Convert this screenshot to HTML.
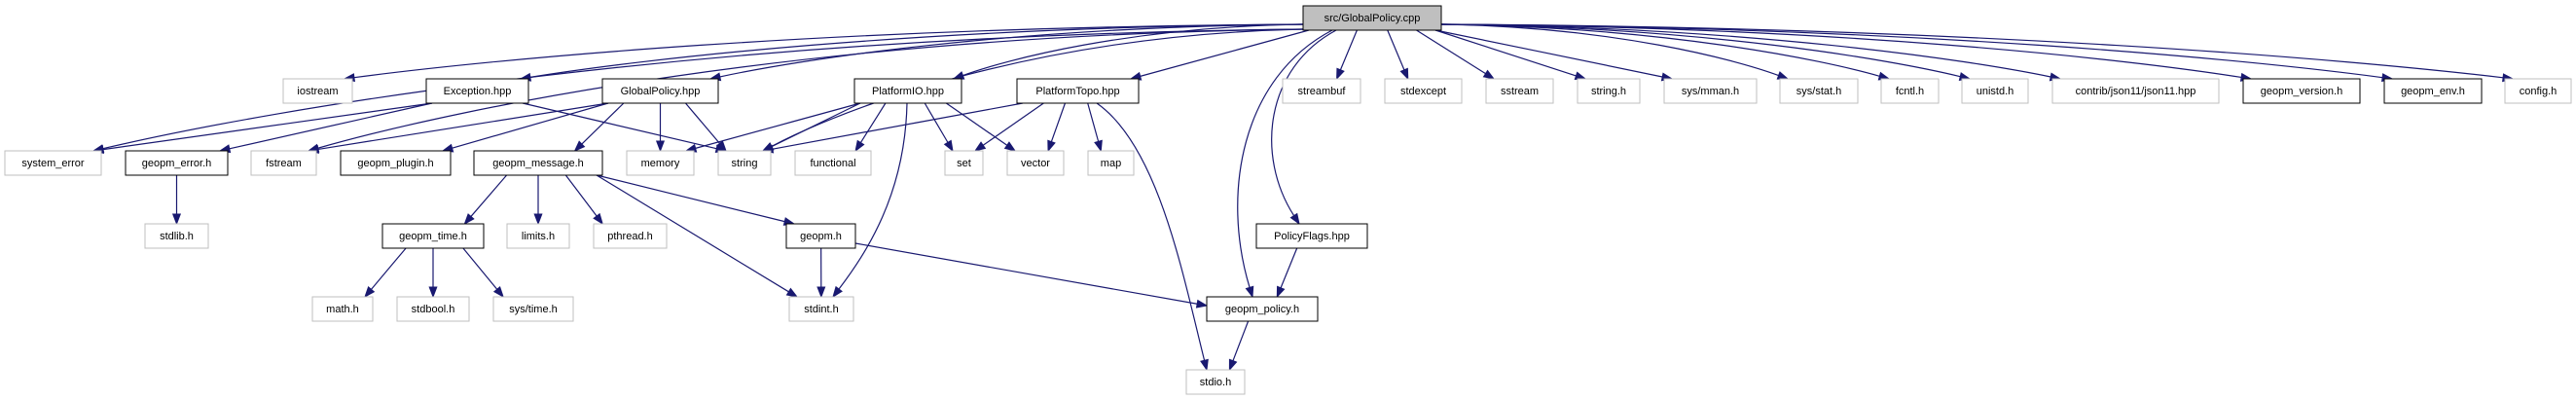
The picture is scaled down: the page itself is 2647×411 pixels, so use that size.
<!DOCTYPE html>
<html><head><meta charset="utf-8"><style>
html,body{margin:0;padding:0;background:#fff;width:2647px;height:411px;overflow:hidden}
svg{display:block}
text{font-family:"Liberation Sans",sans-serif;font-size:11px;fill:#000;text-anchor:middle}
</style></head><body>
<svg id="g" width="2647" height="411" xmlns="http://www.w3.org/2000/svg">
<g id="edges"></g>
<g id="nodes" stroke-width="1">
<rect x="1339" y="6" width="142" height="25" fill="#bfbfbf" stroke="#000"/><text x="1410" y="22">src/GlobalPolicy.cpp</text>
<rect x="291" y="81" width="71" height="25" fill="#fff" stroke="#bfbfbf"/><text x="326.5" y="97">iostream</text>
<rect x="438" y="81" width="105" height="25" fill="#fff" stroke="#000"/><text x="490.5" y="97">Exception.hpp</text>
<rect x="619" y="81" width="119" height="25" fill="#fff" stroke="#000"/><text x="678.5" y="97">GlobalPolicy.hpp</text>
<rect x="878" y="81" width="110" height="25" fill="#fff" stroke="#000"/><text x="933" y="97">PlatformIO.hpp</text>
<rect x="1045" y="81" width="125" height="25" fill="#fff" stroke="#000"/><text x="1107.5" y="97">PlatformTopo.hpp</text>
<rect x="1318" y="81" width="80" height="25" fill="#fff" stroke="#bfbfbf"/><text x="1358" y="97">streambuf</text>
<rect x="1423" y="81" width="79" height="25" fill="#fff" stroke="#bfbfbf"/><text x="1462.5" y="97">stdexcept</text>
<rect x="1527" y="81" width="69" height="25" fill="#fff" stroke="#bfbfbf"/><text x="1561.5" y="97">sstream</text>
<rect x="1621" y="81" width="64" height="25" fill="#fff" stroke="#bfbfbf"/><text x="1653" y="97">string.h</text>
<rect x="1710" y="81" width="95" height="25" fill="#fff" stroke="#bfbfbf"/><text x="1757.5" y="97">sys/mman.h</text>
<rect x="1829" y="81" width="80" height="25" fill="#fff" stroke="#bfbfbf"/><text x="1869" y="97">sys/stat.h</text>
<rect x="1933" y="81" width="59" height="25" fill="#fff" stroke="#bfbfbf"/><text x="1962.5" y="97">fcntl.h</text>
<rect x="2016" y="81" width="68" height="25" fill="#fff" stroke="#bfbfbf"/><text x="2050" y="97">unistd.h</text>
<rect x="2109" y="81" width="171" height="25" fill="#fff" stroke="#bfbfbf"/><text x="2194.5" y="97">contrib/json11/json11.hpp</text>
<rect x="2305" y="81" width="120" height="25" fill="#fff" stroke="#000"/><text x="2365" y="97">geopm_version.h</text>
<rect x="2450" y="81" width="100" height="25" fill="#fff" stroke="#000"/><text x="2500" y="97">geopm_env.h</text>
<rect x="2574" y="81" width="68" height="25" fill="#fff" stroke="#bfbfbf"/><text x="2608" y="97">config.h</text>

<rect x="5" y="155" width="99" height="25" fill="#fff" stroke="#bfbfbf"/><text x="54.5" y="171">system_error</text>
<rect x="129" y="155" width="105" height="25" fill="#fff" stroke="#000"/><text x="181.5" y="171">geopm_error.h</text>
<rect x="258" y="155" width="67" height="25" fill="#fff" stroke="#bfbfbf"/><text x="291.5" y="171">fstream</text>
<rect x="350" y="155" width="113" height="25" fill="#fff" stroke="#000"/><text x="406.5" y="171">geopm_plugin.h</text>
<rect x="487" y="155" width="132" height="25" fill="#fff" stroke="#000"/><text x="553" y="171">geopm_message.h</text>
<rect x="644" y="155" width="69" height="25" fill="#fff" stroke="#bfbfbf"/><text x="678.5" y="171">memory</text>
<rect x="738" y="155" width="54" height="25" fill="#fff" stroke="#bfbfbf"/><text x="765" y="171">string</text>
<rect x="817" y="155" width="78" height="25" fill="#fff" stroke="#bfbfbf"/><text x="856" y="171">functional</text>
<rect x="971" y="155" width="39" height="25" fill="#fff" stroke="#bfbfbf"/><text x="990.5" y="171">set</text>
<rect x="1035" y="155" width="58" height="25" fill="#fff" stroke="#bfbfbf"/><text x="1064" y="171">vector</text>
<rect x="1118" y="155" width="47" height="25" fill="#fff" stroke="#bfbfbf"/><text x="1141.5" y="171">map</text>

<rect x="149" y="230" width="65" height="25" fill="#fff" stroke="#bfbfbf"/><text x="181.5" y="246">stdlib.h</text>
<rect x="393" y="230" width="104" height="25" fill="#fff" stroke="#000"/><text x="445" y="246">geopm_time.h</text>
<rect x="521" y="230" width="64" height="25" fill="#fff" stroke="#bfbfbf"/><text x="553" y="246">limits.h</text>
<rect x="610" y="230" width="75" height="25" fill="#fff" stroke="#bfbfbf"/><text x="647.5" y="246">pthread.h</text>
<rect x="808" y="230" width="71" height="25" fill="#fff" stroke="#000"/><text x="843.5" y="246">geopm.h</text>
<rect x="1291" y="230" width="114" height="25" fill="#fff" stroke="#000"/><text x="1348" y="246">PolicyFlags.hpp</text>

<rect x="321" y="305" width="62" height="25" fill="#fff" stroke="#bfbfbf"/><text x="352" y="321">math.h</text>
<rect x="408" y="305" width="74" height="25" fill="#fff" stroke="#bfbfbf"/><text x="445" y="321">stdbool.h</text>
<rect x="507" y="305" width="82" height="25" fill="#fff" stroke="#bfbfbf"/><text x="548" y="321">sys/time.h</text>
<rect x="811" y="305" width="66" height="25" fill="#fff" stroke="#bfbfbf"/><text x="844" y="321">stdint.h</text>
<rect x="1240" y="305" width="114" height="25" fill="#fff" stroke="#000"/><text x="1297" y="321">geopm_policy.h</text>

<rect x="1219" y="380" width="60" height="25" fill="#fff" stroke="#bfbfbf"/><text x="1249" y="396">stdio.h</text>
</g>
</svg>
<script>
var N={root:[1339,6,142],iostream:[291,81,71],exc:[438,81,105],gp:[619,81,119],pio:[878,81,110],ptopo:[1045,81,125],streambuf:[1318,81,80],stdexcept:[1423,81,79],sstream:[1527,81,69],stringh:[1621,81,64],mman:[1710,81,95],stat:[1829,81,80],fcntl:[1933,81,59],unistd:[2016,81,68],json:[2109,81,171],ver:[2305,81,120],env:[2450,81,100],config:[2574,81,68],
syserr:[5,155,99],gerr:[129,155,105],fstream:[258,155,67],plugin:[350,155,113],msg:[487,155,132],memory:[644,155,69],string:[738,155,54],functional:[817,155,78],set:[971,155,39],vector:[1035,155,58],map:[1118,155,47],
stdlib:[149,230,65],gtime:[393,230,104],limits:[521,230,64],pthread:[610,230,75],geopm:[808,230,71],pflags:[1291,230,114],
math:[321,305,62],stdbool:[408,305,74],systime:[507,305,82],stdint:[811,305,66],gpol:[1240,305,114],stdio:[1219,380,60]};
var C={
"root-gpol":[1369,31,1275,80,1255,200,1287,305],
"root-pflags":[1373,31,1300,70,1290,160,1335,230],
"ptopo-stdio":[1127,106,1190,150,1215,280,1240,380],
"pio-stdint":[932,106,930,200,890,260,856,305],
"geopm-gpol":[879,250,1000,272,1120,293,1240,314]
};
var E=[["root","iostream"],["root","exc"],["root","gp"],["root","syserr"],["root","fstream"],["root","string"],["root","pio"],["root","ptopo"],["root","streambuf"],["root","stdexcept"],["root","sstream"],["root","stringh"],["root","mman"],["root","stat"],["root","fcntl"],["root","unistd"],["root","json"],["root","ver"],["root","env"],["root","config"],["root","pflags"],["root","gpol"],
["exc","syserr"],["exc","gerr"],["exc","string"],["gp","fstream"],["gp","plugin"],["gp","msg"],["gp","memory"],["gp","string"],["gerr","stdlib"],
["msg","gtime"],["msg","limits"],["msg","pthread"],["msg","stdint"],["msg","geopm"],["gtime","math"],["gtime","stdbool"],["gtime","systime"],
["geopm","stdint"],["geopm","gpol"],["pio","memory"],["pio","string"],["pio","functional"],["pio","set"],["pio","vector"],["pio","stdint"],
["ptopo","string"],["ptopo","set"],["ptopo","vector"],["ptopo","map"],["ptopo","stdio"],["pflags","gpol"],["gpol","stdio"]];
function cl(v,a,b){return Math.max(a,Math.min(b,v));}
var out="";
E.forEach(function(e){var s=N[e[0]],t=N[e[1]];var sx,sy,c1x,c1y,c2x,c2y,tx,ty;
var k=e[0]+"-"+e[1];
if(C[k]){var p=C[k];sx=p[0];sy=p[1];c1x=p[2];c1y=p[3];c2x=p[4];c2y=p[5];tx=p[6];ty=p[7];}
else{
var scx=s[0]+s[2]/2,tcx=t[0]+t[2]/2;
sx=scx+cl((tcx-scx)*0.3,-(s[2]/2-6),s[2]/2-6);sy=s[1]+25;
tx=tcx+cl((scx-tcx)*0.3,-(t[2]/2-8),t[2]/2-8);ty=t[1];
var dx=tx-sx,dy=ty-sy;
if(Math.abs(dx)>300&&e[0]=="root"){sy=s[1]+14+Math.min(10,dy/10);sx=dx<0?s[0]:s[0]+s[2];dx=tx-sx;dy=ty-sy;
c1x=sx+dx*0.5;c1y=sy+dy*0.05;c2x=tx-dx*0.15;c2y=ty-dy*0.35;}
else{c1x=sx+dx*0.3;c1y=sy+dy*0.3;c2x=tx-dx*0.3;c2y=ty-dy*0.3;}
}
var ax=tx-c2x,ay=ty-c2y,L=Math.sqrt(ax*ax+ay*ay)||1;ax/=L;ay/=L;
var bx=tx-ax*10,by=ty-ay*10,px=-ay*3.8,py=ax*3.8;
out+='<path d="M'+sx+','+sy+' C'+c1x+','+c1y+' '+c2x+','+c2y+' '+bx+','+by+'" fill="none" stroke="#191970" stroke-width="1.2"/>';
out+='<polygon points="'+tx+','+ty+' '+(bx+px)+','+(by+py)+' '+(bx-px)+','+(by-py)+'" fill="#191970" stroke="#191970"/>';
});
document.getElementById("edges").innerHTML=out;
</script>
</body></html>
